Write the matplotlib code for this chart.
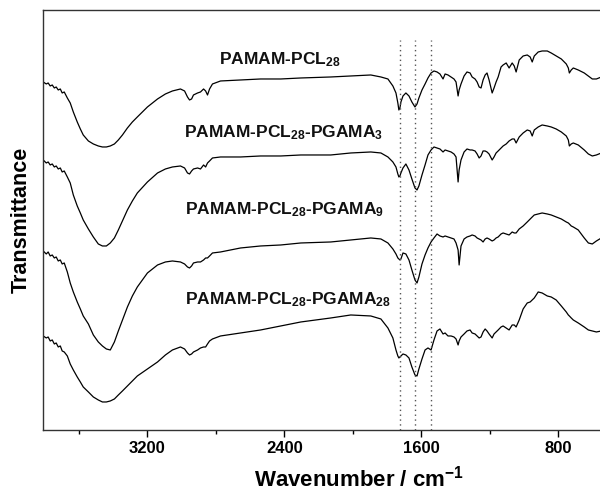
import matplotlib.pyplot as plt
from matplotlib.ticker import FixedLocator

plt.rcParams['font.family'] = 'Liberation Sans'
plt.rcParams['font.weight'] = 'bold'
plt.rcParams['mathtext.fontset'] = 'custom'
plt.rcParams['mathtext.rm'] = 'Liberation Sans:bold'
plt.rcParams['mathtext.default'] = 'rm'

# wavenumber grid (cm-1)
wavenumber = [3809, 3791, 3780, 3768, 3756, 3744, 3733, 3721, 3709, 3698,
              3686, 3668, 3651, 3633, 3610, 3592, 3575, 3545, 3516, 3487,
              3463, 3440, 3417, 3393, 3370, 3346, 3317, 3288, 3259, 3200,
              3141, 3095, 3054, 3007, 2983, 2966, 2954, 2942, 2931, 2907,
              2890, 2872, 2860, 2849, 2837, 2820, 2773, 2656, 2539, 2421,
              2304, 2129, 2012, 1895, 1836, 1795, 1766, 1748, 1737, 1731,
              1725, 1719, 1707, 1690, 1672, 1655, 1637, 1625, 1614, 1596,
              1578, 1561, 1543, 1526, 1508, 1491, 1473, 1461, 1444, 1426,
              1409, 1397, 1385, 1379, 1368, 1350, 1333, 1315, 1303, 1286,
              1274, 1262, 1251, 1239, 1227, 1216, 1204, 1186, 1175, 1163,
              1151, 1134, 1122, 1104, 1087, 1069, 1057, 1046, 1028, 1005,
              981, 964, 952, 940, 917, 894, 864, 841, 812, 782,
              753, 741, 735, 724, 712, 683, 648, 624, 601, 577,
              548]

# transmittance (arbitrary units, already stacked)
t_pcl28 = [348, 346, 347, 344, 345, 342, 343, 340, 341, 337,
           338, 332, 327, 318, 308, 301, 295, 289, 286, 284,
           283, 283, 284, 286, 290, 295, 302, 308, 313, 323,
           331, 336, 339, 341, 339, 333, 330, 331, 335, 337,
           338, 341, 339, 335, 341, 346, 349, 350, 351, 351,
           352, 353, 354, 355, 353, 351, 344, 337, 327, 320,
           322, 328, 334, 337, 334, 328, 323, 326, 332, 340,
           346, 352, 357, 359, 358, 356, 351, 356, 355, 353,
           351, 348, 334, 340, 346, 354, 358, 357, 353, 351,
           348, 343, 342, 350, 355, 357, 350, 337, 342, 348,
           353, 363, 365, 367, 362, 367, 364, 358, 370, 374,
           375, 373, 368, 374, 378, 379, 379, 377, 374, 371,
           366, 362, 357, 360, 362, 360, 357, 354, 351, 351,
           353]

t_pgama3 = [270, 267, 268, 265, 266, 263, 264, 261, 262, 258,
            259, 253, 247, 235, 224, 217, 210, 201, 193, 186,
            184, 184, 187, 192, 200, 209, 220, 229, 237, 248,
            257, 261, 263, 264, 262, 257, 256, 259, 261, 262,
            261, 265, 263, 267, 269, 272, 273, 273, 274, 274,
            275, 275, 277, 278, 277, 273, 268, 263, 256, 253,
            254, 257, 262, 266, 260, 251, 242, 240, 244, 255,
            265, 275, 280, 283, 282, 281, 278, 280, 279, 278,
            276, 273, 248, 260, 270, 278, 281, 280, 280, 279,
            276, 272, 274, 279, 279, 278, 276, 270, 273, 277,
            279, 282, 284, 286, 289, 291, 291, 287, 293, 297,
            300, 299, 294, 300, 303, 305, 304, 303, 301, 298,
            294, 290, 284, 286, 287, 285, 280, 276, 274, 275,
            277]

t_pgama9 = [179, 176, 178, 174, 175, 172, 173, 169, 170, 166,
            167, 158, 147, 138, 128, 121, 114, 106, 95, 88,
            84, 81, 80, 88, 99, 110, 123, 134, 143, 157,
            165, 168, 169, 168, 166, 163, 162, 164, 167, 168,
            168, 170, 172, 172, 174, 177, 178, 182, 184, 185,
            187, 188, 190, 192, 191, 187, 181, 176, 172, 171,
            170, 171, 177, 176, 170, 160, 150, 147, 153, 166,
            175, 182, 188, 192, 196, 194, 193, 194, 193, 192,
            191, 187, 180, 165, 184, 191, 193, 194, 195, 194,
            192, 191, 190, 188, 191, 192, 191, 189, 190, 192,
            193, 196, 197, 196, 195, 198, 197, 197, 201, 204,
            208, 211, 213, 215, 216, 217, 216, 215, 213, 211,
            208, 207, 206, 204, 203, 200, 192, 187, 186, 189,
            192]

t_pgama28 = [94, 92, 93, 89, 90, 86, 87, 83, 84, 79,
             78, 74, 66, 60, 53, 48, 43, 38, 33, 30,
             28, 28, 29, 31, 35, 39, 44, 49, 54, 61,
             68, 75, 80, 83, 81, 77, 75, 76, 78, 80,
             82, 83, 83, 86, 89, 91, 94, 97, 100, 104,
             108, 112, 115, 114, 111, 102, 92, 80, 74, 72,
             73, 74, 76, 75, 72, 63, 55, 54, 61, 71,
             80, 82, 80, 90, 99, 101, 96, 97, 94, 94,
             93, 91, 85, 89, 93, 96, 99, 100, 97, 96,
             94, 92, 93, 98, 101, 99, 96, 92, 96, 98,
             100, 103, 104, 102, 100, 105, 105, 103, 110, 121,
             127, 128, 130, 132, 138, 137, 134, 133, 130, 124,
             118, 115, 114, 112, 110, 107, 103, 100, 99, 98,
             99]

labels = ['PAMAM-PCL$_{28}$',
          'PAMAM-PCL$_{28}$-PGAMA$_{3}$',
          'PAMAM-PCL$_{28}$-PGAMA$_{9}$',
          'PAMAM-PCL$_{28}$-PGAMA$_{28}$']
label_x = [2427, 2404, 2398, 2380]
label_y = [370, 297, 220, 130]

guides = [1725, 1637, 1543]

fig = plt.figure(figsize=(6, 4.94), dpi=100)
ax = fig.add_axes([0.0717, 0.1296, 0.93, 0.8502])

for t in [t_pcl28, t_pgama3, t_pgama9, t_pgama28]:
    ax.plot(wavenumber, t, color='black', lw=0.9)

for lab, x, y in zip(labels, label_x, label_y):
    ax.text(x, y, lab, ha='center', va='center', fontsize=12.5, fontweight='bold',
            color='#111111')

ax.vlines(guides, 0, 390, colors='#555555', linestyles=(0, (1, 2.5)), lw=1.0)

ax.set_xlim(3810, 550)
ax.set_ylim(0, 420)
ax.set_yticks([])
ax.xaxis.set_major_locator(FixedLocator([3200, 2400, 1600, 800]))
ax.xaxis.set_minor_locator(FixedLocator([3600, 2800, 2000, 1200]))
ax.tick_params(axis='x', which='major', direction='out', length=5, width=1,
               labelsize=12, pad=3)
ax.tick_params(axis='x', which='minor', direction='out', length=3, width=1)
for lab in ax.get_xticklabels():
    lab.set_fontweight('bold')
ax.spines['right'].set_visible(False)
for s in ['left', 'top', 'bottom']:
    ax.spines[s].set_linewidth(1.0)
    ax.spines[s].set_color('#333333')

ax.set_xlabel('Wavenumber / cm$^{\\mathregular{-1}}$', fontsize=16, fontweight='bold')
ax.xaxis.set_label_coords(0.566, -0.085)
ax.set_ylabel('Transmittance', fontsize=15.5, fontweight='bold', labelpad=8)

fig.savefig('out.png', dpi=100)
